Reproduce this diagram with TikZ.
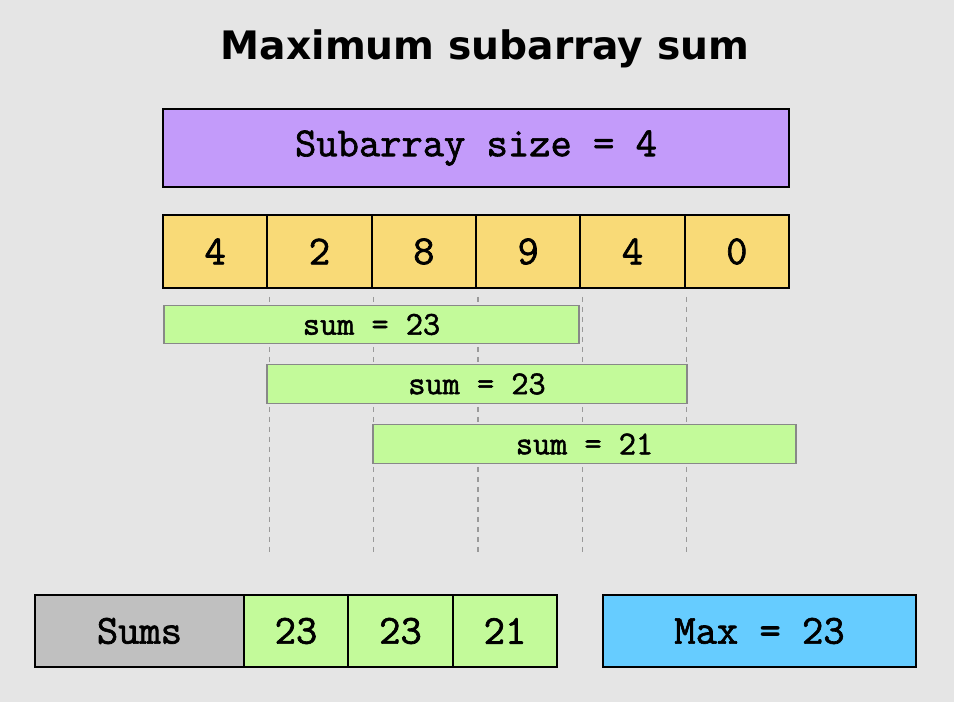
\documentclass[tikz,border=0pt]{standalone}
\usepackage{fontspec}
\setmainfont{DejaVu Sans}
\newfontfamily\monof{Latin Modern Mono}[FakeBold=1.6]
\newfontfamily\titlef{DejaVu Sans Bold}
\definecolor{bgc}{HTML}{E5E5E5}
\definecolor{purp}{HTML}{C39BFA}
\definecolor{yel}{HTML}{F9DA77}
\definecolor{grn}{HTML}{C3FA9A}
\definecolor{gry}{HTML}{C0C0C0}
\definecolor{blu}{HTML}{66CCFF}
\definecolor{barline}{HTML}{888888}
\definecolor{guide}{HTML}{999999}
\tikzset{
  box/.style={draw=black, line width=1.3pt, rectangle, inner sep=0pt, font=\monof\fontsize{31}{34}\selectfont},
  cell/.style={box, fill=yel, minimum width=104.33*0.75pt, minimum height=73*0.75pt},
  sumbar/.style={draw=barline, line width=1pt, fill=grn, rectangle, inner sep=0pt, minimum height=38.5*0.75pt, font=\monof\fontsize{25}{28}\selectfont},
  guideline/.style={draw=guide, line width=1pt, dash pattern=on 4pt off 3.5pt},
  bottom/.style={box, minimum height=72*0.75pt}
}
\begin{document}
\begin{tikzpicture}[x=0.75pt,y=-0.75pt]
\fill[bgc] (0,0) rectangle (954,702);
\useasboundingbox (0,0) rectangle (954,702);
\node[font=\titlef\fontsize{29.4}{33}\selectfont] (title) at (485,49) {Maximum subarray sum};
\node[box, fill=purp, minimum width=626*0.75pt, minimum height=78*0.75pt] (size) at (476,148) {Subarray size = 4};
\node[cell] (c1) at (215.17,251.5) {4};
\node[cell] (c2) at (319.5,251.5) {2};
\node[cell] (c3) at (423.83,251.5) {8};
\node[cell] (c4) at (528.17,251.5) {9};
\node[cell] (c5) at (632.5,251.5) {4};
\node[cell] (c6) at (736.83,251.5) {0};
\foreach \k in {c1,c2,c3,c4,c5}{
  \draw[guideline] ([xshift=1*0.75pt,yshift=-8*0.75pt]\k.south east) -- ++(0,256);
}
\node[sumbar, minimum width=415*0.75pt] (s1) at (371.5,324.5) {sum = 23};
\node[sumbar, minimum width=420*0.75pt] (s2) at (477,384) {sum = 23};
\node[sumbar, minimum width=423*0.75pt] (s3) at (584.5,444) {sum = 21};
\node[bottom, fill=gry, minimum width=209*0.75pt] (sums) at (139.5,631) {Sums};
\node[bottom, fill=grn, minimum width=104*0.75pt] (v1) at (296,631) {23};
\node[bottom, fill=grn, minimum width=105*0.75pt] (v2) at (400.5,631) {23};
\node[bottom, fill=grn, minimum width=104*0.75pt] (v3) at (505,631) {21};
\node[bottom, fill=blu, minimum width=313*0.75pt] (max) at (759.5,631) {Max = 23};
\end{tikzpicture}
\end{document}
